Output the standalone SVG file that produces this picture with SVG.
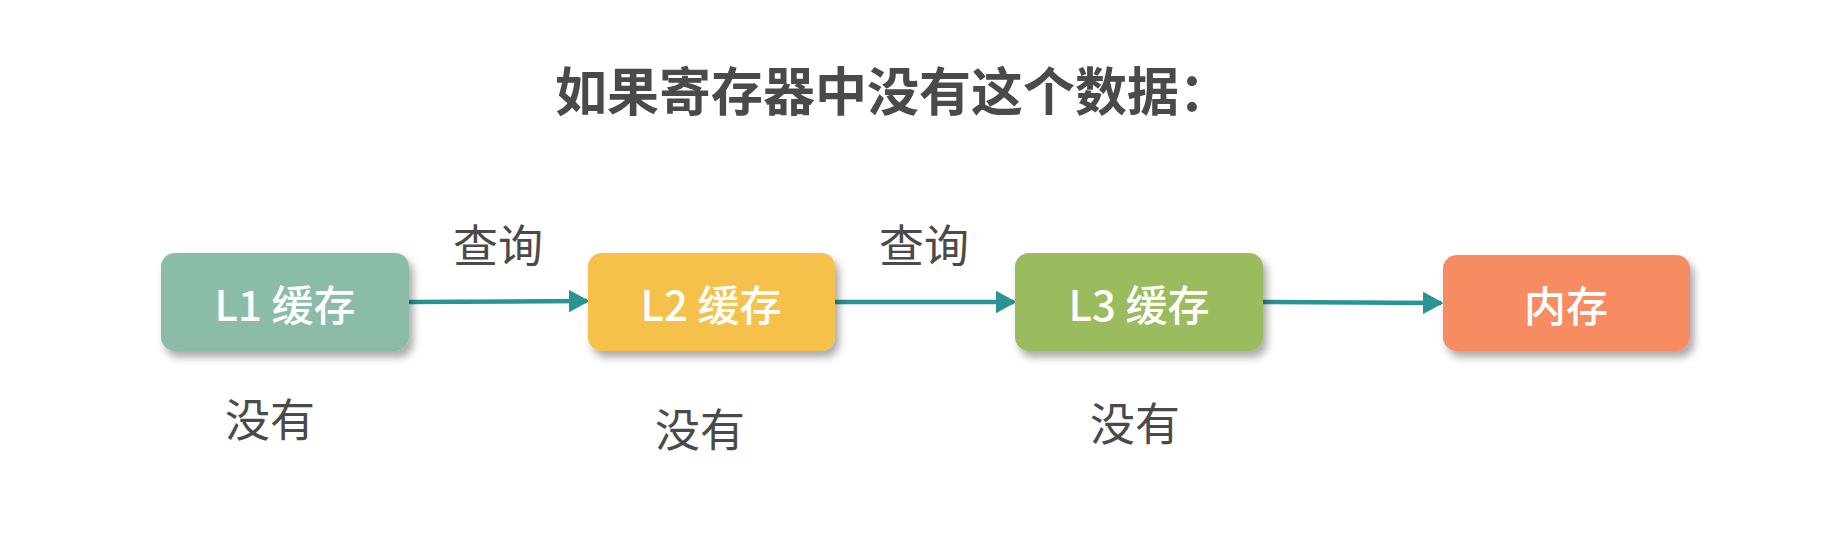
<svg xmlns="http://www.w3.org/2000/svg" width="1847" height="536" viewBox="0 0 1847 536">
<style>
  text { font-family: "Noto Sans CJK SC", "Noto Sans", sans-serif; dominant-baseline: central; text-anchor: middle; }
  .title { font-size: 52px; font-weight: bold; fill: #4a4a4a; }
  .lbl { font-size: 45px; fill: #4a4a4a; }
  .box-t { font-size: 42px; font-weight: 500; fill: #ffffff; }
  .conn { stroke: #2a9393; stroke-width: 4.5; fill: none; marker-end: url(#ah); }
</style>
<defs>
  <filter id="sh" x="-20%" y="-20%" width="150%" height="160%">
    <feGaussianBlur in="SourceAlpha" stdDeviation="4"/>
    <feOffset dx="4" dy="6" result="b"/>
    <feComponentTransfer><feFuncA type="linear" slope="0.35"/></feComponentTransfer>
    <feMerge><feMergeNode/><feMergeNode in="SourceGraphic"/></feMerge>
  </filter>
  <marker id="ah" markerWidth="4.5" markerHeight="5" refX="4" refY="2.5" orient="auto" markerUnits="strokeWidth">
    <path d="M0,0 L4.5,2.5 L0,5 Z" fill="#2a9393"/>
  </marker>
</defs>
<rect width="1847" height="536" fill="#ffffff"/>
<text class="title" x="893" y="88">如果寄存器中没有这个数据：</text>
<g id="connectors">
  <line class="conn" x1="409" y1="302" x2="587" y2="301"/>
  <line class="conn" x1="835" y1="302" x2="1014" y2="302"/>
  <line class="conn" x1="1263" y1="302" x2="1441" y2="303"/>
</g>
<g id="l1">
  <rect x="161" y="253" width="248" height="98" rx="14" fill="#8bbca8" filter="url(#sh)"/>
  <text class="box-t" x="285" y="302">L1 缓存</text>
</g>
<g id="l2">
  <rect x="588" y="253" width="247" height="98" rx="14" fill="#f5c14c" filter="url(#sh)"/>
  <text class="box-t" x="711" y="302">L2 缓存</text>
</g>
<g id="l3">
  <rect x="1015" y="253" width="248" height="98" rx="14" fill="#9bbb5e" filter="url(#sh)"/>
  <text class="box-t" x="1139" y="302">L3 缓存</text>
</g>
<g id="mem">
  <rect x="1443" y="255" width="247" height="96" rx="14" fill="#f78c63" filter="url(#sh)"/>
  <text class="box-t" x="1566" y="303">内存</text>
</g>
<g id="labels">
  <text class="lbl" x="498" y="243">查询</text>
  <text class="lbl" x="924" y="243">查询</text>
  <text class="lbl" x="270" y="417">没有</text>
  <text class="lbl" x="700" y="427">没有</text>
  <text class="lbl" x="1135" y="421">没有</text>
</g>
</svg>
